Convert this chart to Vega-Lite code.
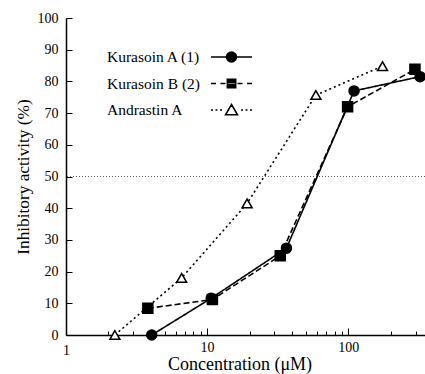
{
  "$schema": "https://vega.github.io/schema/vega-lite/v6.json",
  "width": 359,
  "height": 317,
  "autosize": {"type": "none"},
  "padding": {"left": 66, "top": 18, "right": 0, "bottom": 39},
  "background": "white",
  "config": {
    "view": {"stroke": null},
    "font": "Liberation Serif",
    "axis": {"grid": false, "domainColor": "black", "domainWidth": 1.5, "tickColor": "black", "tickWidth": 1, "labelColor": "black", "titleColor": "black", "labelFont": "Liberation Serif", "titleFont": "Liberation Serif", "titleFontWeight": "normal"}
  },
  "data": {
    "values": [
      {"series": "Kurasoin A (1)", "conc": 4.05, "inhib": 0},
      {"series": "Kurasoin A (1)", "conc": 10.7, "inhib": 11.6},
      {"series": "Kurasoin A (1)", "conc": 36.5, "inhib": 27.4},
      {"series": "Kurasoin A (1)", "conc": 110, "inhib": 77},
      {"series": "Kurasoin A (1)", "conc": 323, "inhib": 81.5},
      {"series": "Kurasoin B (2)", "conc": 3.8, "inhib": 8.4},
      {"series": "Kurasoin B (2)", "conc": 10.9, "inhib": 11.2},
      {"series": "Kurasoin B (2)", "conc": 33, "inhib": 25},
      {"series": "Kurasoin B (2)", "conc": 99, "inhib": 72},
      {"series": "Kurasoin B (2)", "conc": 297, "inhib": 83.8},
      {"series": "Andrastin A", "conc": 2.22, "inhib": 0},
      {"series": "Andrastin A", "conc": 6.6, "inhib": 18},
      {"series": "Andrastin A", "conc": 19.2, "inhib": 41.5},
      {"series": "Andrastin A", "conc": 59, "inhib": 75.7},
      {"series": "Andrastin A", "conc": 175, "inhib": 84.8}
    ]
  },
  "encoding": {
    "x": {"field": "conc", "type": "quantitative",
      "scale": {"type": "log", "domain": [1, 350], "nice": false},
      "axis": {"title": "Concentration (μM)", "titleFontSize": 18, "titleX": 173.5, "titleY": 34, "titleBaseline": "alphabetic",
        "values": [1,2,3,4,5,6,7,8,9,10,20,30,40,50,60,70,80,90,100,200,300],
        "labelExpr": "(datum.value == 1 || datum.value == 10 || datum.value == 100) ? format(datum.value, 'd') : ''",
        "labelFontSize": 14, "labelPadding": 12, "labelFlush": false, "labelOverlap": false,
        "tickSize": {"condition": {"test": "datum.value == 10 || datum.value == 100", "value": -7}, "value": -4}}},
    "y": {"field": "inhib", "type": "quantitative",
      "scale": {"domain": [0, 100], "nice": false},
      "axis": {"title": "Inhibitory activity (%)", "titleFontSize": 17.3, "titlePadding": 5,
        "values": [0,10,20,30,40,50,60,70,80,90,100],
        "labelFontSize": 14, "tickSize": -6, "labelPadding": 14}}
  },
  "layer": [
    {
      "mark": {"type": "rule", "strokeDash": [1, 2], "strokeWidth": 0.8, "color": "#333"},
      "data": {"values": [{"level": 50}]},
      "encoding": {"y": {"field": "level", "type": "quantitative"}, "x": null}
    },
    {
      "mark": {"type": "line", "color": "black", "strokeWidth": 1.6},
      "encoding": {
        "detail": {"field": "series"},
        "strokeDash": {"field": "series", "type": "nominal",
          "scale": {"domain": ["Kurasoin A (1)", "Kurasoin B (2)", "Andrastin A"], "range": [[1, 0], [6, 3], [2, 3]]},
          "legend": null}
      }
    },
    {
      "mark": {"type": "point", "filled": true, "stroke": "black", "strokeWidth": 1.5, "size": 100, "opacity": 1},
      "encoding": {
        "shape": {"field": "series", "type": "nominal",
          "scale": {"domain": ["Kurasoin A (1)", "Kurasoin B (2)", "Andrastin A"], "range": ["circle", "square", "triangle-up"]},
          "legend": null},
        "fill": {"field": "series", "type": "nominal",
          "scale": {"domain": ["Kurasoin A (1)", "Kurasoin B (2)", "Andrastin A"], "range": ["black", "black", "white"]},
          "legend": null}
      }
    },
    {
      "mark": {"type": "point", "filled": false, "opacity": 0, "color": "black", "strokeWidth": 1.5},
      "encoding": {
        "shape": {"field": "series", "type": "nominal",
          "scale": {"domain": ["Kurasoin A (1)", "Kurasoin B (2)", "Andrastin A"],
            "range": [
              "M-2.05,0H2.05M-0.3,-0.4H0.3M-0.4,-0.3H0.4M-0.458,-0.2H0.458M-0.49,-0.1H0.49M-0.49,0.1H0.49M-0.458,0.2H0.458M-0.4,0.3H0.4M-0.3,0.4H0.3M-0.5,0A0.5,0.5,0,1,1,0.5,0A0.5,0.5,0,1,1,-0.5,0Z",
              "M-2.05,0H-1.55M-1.1,0H-0.6M-0.42,-0.42H0.42V0.42H-0.42ZM-0.42,-0.3H0.42M-0.42,-0.2H0.42M-0.42,-0.1H0.42M-0.42,0.1H0.42M-0.42,0.2H0.42M-0.42,0.3H0.42M0.6,0H1.1M1.55,0H2.05",
              "M-2.05,0H-1.85M-1.6,0H-1.4M-1.15,0H-0.95M0.95,0H1.15M1.4,0H1.6M1.85,0H2.05M0,-0.55L0.6,0.48L-0.6,0.48Z"
            ]},
          "legend": {"orient": "none", "legendX": 154.5, "legendY": 28, "title": null,
            "symbolSize": 400, "symbolStrokeWidth": 1.5, "symbolStrokeColor": "black",
            "symbolOpacity": 1, "labelOffset": -135.5, "labelFont": "Liberation Serif", "labelFontSize": 15.5,
            "labelColor": "black", "rowPadding": 6.5, "labelLimit": 0,
            "encode": {"symbols": {"update": {"opacity": {"value": 1}, "stroke": {"value": "black"}, "strokeWidth": {"value": 1.5}, "strokeOpacity": {"value": 1}}}}}
        }
      }
    }
  ],
  "resolve": {"scale": {"shape": "independent"}}
}
